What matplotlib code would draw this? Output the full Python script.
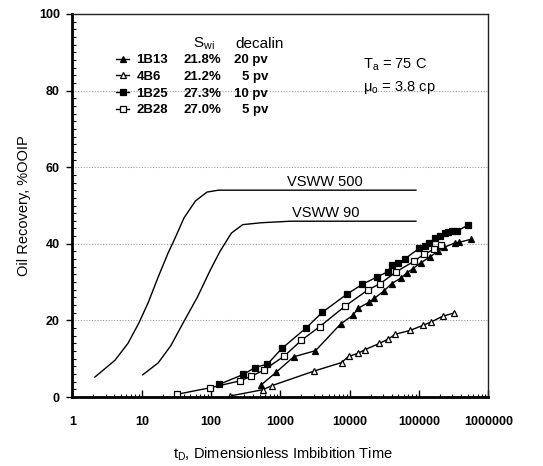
import matplotlib
matplotlib.use('Agg')
import matplotlib.pyplot as plt
from matplotlib.lines import Line2D
from matplotlib.ticker import FixedLocator, MultipleLocator, LogLocator, NullFormatter

plt.rcParams['font.family'] = ['Liberation Sans', 'DejaVu Sans']
plt.rcParams['mathtext.fontset'] = 'custom'
plt.rcParams['mathtext.rm'] = 'Liberation Sans'
plt.rcParams['mathtext.it'] = 'Liberation Sans:italic'
plt.rcParams['mathtext.bf'] = 'Liberation Sans:bold'

# --- simulated VSWW curves (lines only)
vsww500_x = [2.1, 4.1, 6.3, 9.0, 12.4, 17.2, 23.8, 29.5, 40.7, 59.5, 87, 127, 180, 90000]
vsww500_y = [5.2, 9.6, 14.0, 19.2, 24.7, 31.3, 37.5, 41.1, 46.8, 51.2, 53.5, 54.0, 54.0, 54.0]
vsww90_x = [10.3, 17.2, 26.2, 40.7, 63, 97, 134, 196, 285, 527, 1400, 90000]
vsww90_y = [5.8, 8.9, 13.4, 19.8, 26.0, 33.1, 38.0, 42.8, 45.0, 45.5, 45.9, 45.9]

# --- experimental data
b13_x = [530, 870, 1550, 3200, 7400, 11000, 13300, 18700, 22700, 30700, 40000, 55000,
         66500, 81000, 105000, 144000, 185000, 230000, 325000, 380000, 565000]
b13_y = [3.2, 6.5, 10.5, 12.1, 19.1, 21.3, 23.2, 24.7, 25.8, 27.6, 29.6, 31.1,
         32.4, 33.5, 35.0, 36.6, 38.0, 39.1, 40.2, 40.4, 41.2]

b6_x = [190, 554, 760, 3075, 7600, 9600, 13100, 16700, 26800, 35600, 45500, 74500,
        113000, 150000, 218000, 315000]
b6_y = [0.3, 1.9, 3.0, 6.8, 9.0, 10.6, 11.4, 12.4, 14.0, 15.1, 16.4, 17.4,
        18.7, 19.6, 21.1, 21.9]

b25_x = [130, 292, 430, 650, 1050, 2370, 4000, 9000, 15100, 24500, 35200, 40000, 50300,
         62600, 100000, 120000, 141000, 172000, 203000, 233000, 265000, 300000, 350000, 510000]
b25_y = [3.3, 5.9, 7.7, 8.6, 12.7, 18.1, 22.1, 26.8, 29.4, 31.3, 32.7, 34.4, 35.0,
         36.1, 38.8, 39.3, 40.2, 41.5, 42.1, 42.7, 43.1, 43.3, 43.3, 44.9]

b28_x = [32, 95, 258, 378, 572, 1136, 2000, 3700, 8500, 18400, 27500, 46800,
         83600, 118000, 166000, 206000]
b28_y = [0.7, 2.4, 4.2, 5.4, 7.0, 10.7, 14.8, 18.4, 23.7, 28.0, 29.6, 32.7,
         35.4, 37.3, 38.6, 39.7]

names = ['1B13', '4B6', '1B25', '2B28']
swi = ['21.8%', '21.2%', '27.3%', '27.0%']
decalin = ['20 pv', '5 pv', '10 pv', '5 pv']
markers = ['^', '^', 's', 's']
faces = ['black', 'white', 'black', 'white']
sizes = [4.6, 4.6, 3.9, 3.9]
series = [(b13_x, b13_y), (b6_x, b6_y), (b25_x, b25_y), (b28_x, b28_y)]

x_ticks = [1, 10, 100, 1000, 10000, 100000, 1000000]
y_ticks = [0, 20, 40, 60, 80, 100]

fig = plt.figure(figsize=(5.43, 4.66), dpi=100)
ax = fig.add_axes([0.1335, 0.148, 0.766, 0.822])

ax.plot(vsww500_x, vsww500_y, color='black', lw=1)
ax.plot(vsww90_x, vsww90_y, color='black', lw=1)

for (sx, sy), m, fc, ms in zip(series, markers, faces, sizes):
    ax.plot(sx, sy, color='black', lw=1, marker=m, ms=ms, mfc=fc, mec='black', mew=0.9)

ax.set_xscale('log')
ax.set_xlim(1, 1e6)
ax.set_ylim(0, 100)

ax.xaxis.set_major_locator(FixedLocator(x_ticks))
ax.set_xticklabels([str(v) for v in x_ticks])
ax.xaxis.set_minor_locator(LogLocator(base=10, subs=range(2, 10), numticks=20))
ax.xaxis.set_minor_formatter(NullFormatter())
ax.yaxis.set_major_locator(FixedLocator(y_ticks))
ax.yaxis.set_minor_locator(MultipleLocator(2))

for lab in ax.get_xticklabels() + ax.get_yticklabels():
    lab.set_fontweight('bold')
    lab.set_fontsize(9)

ax.tick_params(axis='x', which='major', direction='in', length=5, width=1, pad=14)
ax.tick_params(axis='x', which='minor', direction='in', length=2.5, width=0.8)
ax.tick_params(axis='y', which='major', direction='out', length=4.5, width=1, pad=4.5)
ax.tick_params(axis='y', which='minor', direction='in', length=3, width=0.8)

ax.grid(axis='y', which='major', linestyle=(0, (1, 1.5)), color='#9a9a9a', lw=0.8)
ax.set_axisbelow(True)

for s in ['left', 'bottom']:
    ax.spines[s].set_linewidth(2)
for s in ['top', 'right']:
    ax.spines[s].set_linewidth(1)
    ax.spines[s].set_color('#222222')

ax.set_xlabel('t$_\\mathrm{D}$, Dimensionless Imbibition Time', fontsize=10.5)
ax.set_ylabel('Oil Recovery, %OOIP', fontsize=10.5)
ax.xaxis.set_label_coords(0.507, -0.128)
ax.yaxis.set_label_coords(-0.1, 0.5)

ax.text(1250, 54.4, 'VSWW 500', fontsize=10.5, va='bottom', ha='left')
ax.text(1490, 46.3, 'VSWW 90', fontsize=10.5, va='bottom', ha='left')

ax.text(0.698, 0.867, 'T$_\\mathrm{a}$ = 75 C', transform=ax.transAxes, fontsize=10.5, va='center')
ax.text(0.698, 0.809, 'μ$_\\mathrm{o}$ = 3.8 cp', transform=ax.transAxes, fontsize=10.5, va='center')

ax.text(0.290, 0.921, 'S$_\\mathrm{wi}$', transform=ax.transAxes, fontsize=11, va='center')
ax.text(0.391, 0.921, 'decalin', transform=ax.transAxes, fontsize=11, va='center')

handles = [Line2D([], [], color='black', lw=1, marker=m, ms=ms, mfc=fc, mec='black', mew=0.9)
           for m, fc, ms in zip(markers, faces, sizes)]
leg = ax.legend(handles, names, loc='upper left', bbox_to_anchor=(0.105, 0.895),
                frameon=False, handlelength=1.0, handletextpad=0.55, labelspacing=0.33,
                borderpad=0, borderaxespad=0, prop={'weight': 'bold', 'size': 9.5})

fig.canvas.draw()
inv = ax.transAxes.inverted()
for t, p, v in zip(leg.get_texts(), swi, decalin):
    bb = t.get_window_extent()
    yc = inv.transform(((bb.x0 + bb.x1) / 2, (bb.y0 + bb.y1) / 2))[1]
    ax.text(0.268, yc, p, transform=ax.transAxes, va='center', ha='left',
            fontweight='bold', fontsize=9.5)
    ax.text(0.470, yc, v, transform=ax.transAxes, va='center', ha='right',
            fontweight='bold', fontsize=9.5)

fig.savefig('out.png', dpi=100)
